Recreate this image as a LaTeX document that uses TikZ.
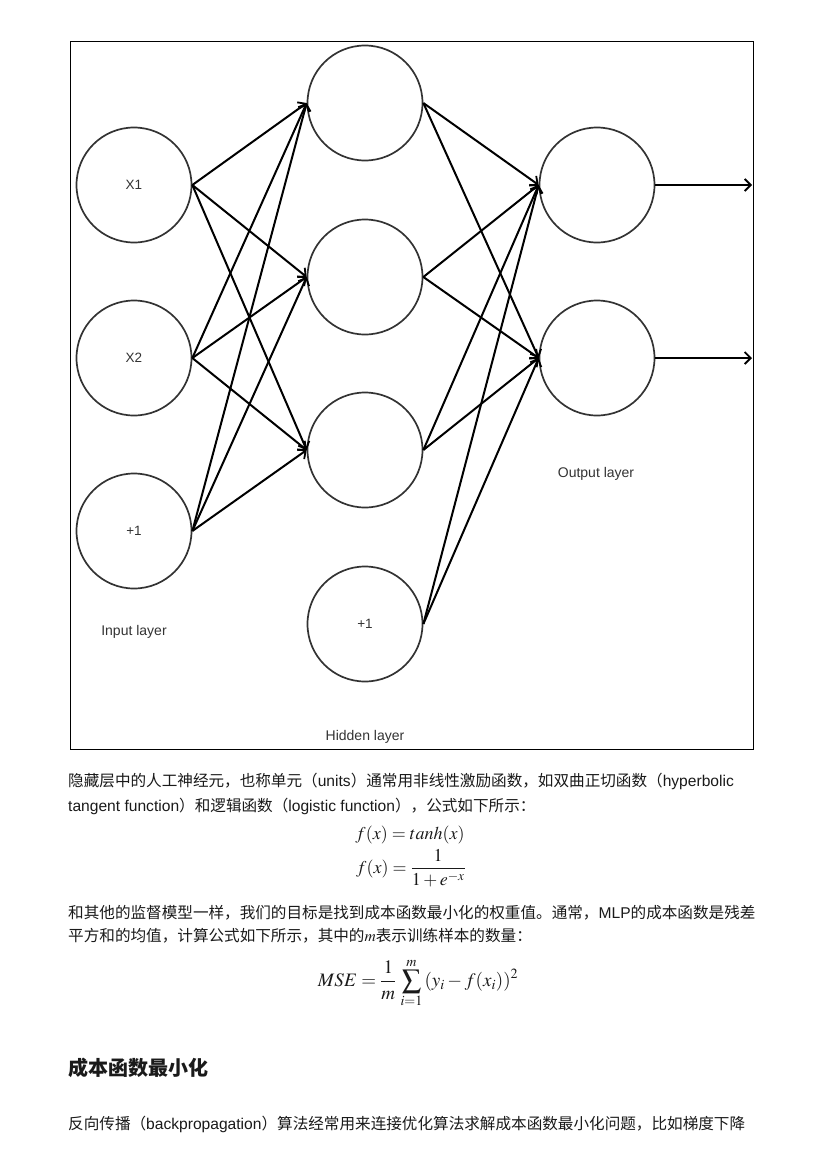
\documentclass[tikz,border=0pt]{standalone}
\usepackage{mathptmx}
\usepackage{fontspec}
\setmainfont{Liberation Sans}
\newfontfamily\cjk{Noto Sans CJK SC}
\usetikzlibrary{arrows.meta}
\definecolor{ink}{HTML}{1A1A1A}
\definecolor{ring}{HTML}{333333}
\begin{document}
\begin{tikzpicture}[x=1pt,y=-1pt,
  neuron/.style={circle,draw=ring,line width=1.7pt,minimum size=115pt,inner sep=0pt,
    text=ring,font=\fontsize{13.5}{16}\selectfont},
  conn/.style={line width=2pt,-{Straight Barb[length=6pt,width=12pt,line width=1.8pt]}},
  lbl/.style={text=ring,font=\fontsize{14}{16}\selectfont,inner sep=0pt},
  para/.style={anchor=base west,inner sep=0pt,text=ink,font=\fontsize{15.6}{18}\selectfont},
  eq/.style={inner sep=0pt,text=ink},
  frm/.style={draw=black,line width=0.9pt,inner sep=0pt,anchor=north west,minimum width=683pt,minimum height=708pt}]
\useasboundingbox (0,0) rectangle (826,1168);
\fill[white] (0,0) rectangle (826,1168);
\node[frm] (frame) at (70,41) {};
% input layer
\node[neuron] (i1) at (134,185) {X1};
\node[neuron] (i2) at (134,358) {X2};
\node[neuron] (i3) at (134,531) {+1};
% hidden layer
\node[neuron] (h1) at (365,103) {};
\node[neuron] (h2) at (365,277) {};
\node[neuron] (h3) at (365,450) {};
\node[neuron] (h4) at (365,624) {+1};
% output layer
\node[neuron] (o1) at (597,185) {};
\node[neuron] (o2) at (597,358) {};
\coordinate (e1) at (752,185);
\coordinate (e2) at (752,358);
% labels
\node[lbl] (li) at (134,632) {Input layer};
\node[lbl] (lh) at (365,737) {Hidden layer};
\node[lbl] (lo) at (596,474) {Output layer};
% connectors
\foreach \a in {i1,i2,i3}{\foreach \b in {h1,h2,h3}{\draw[conn] (\a.east) -- (\b.west);}}
\foreach \a in {h1,h2,h3,h4}{\foreach \b in {o1,o2}{\draw[conn] (\a.east) -- (\b.west);}}
\draw[conn] (o1.east) -- (e1);
\draw[conn] (o2.east) -- (e2);
% text
\node[para] (p1) at (68,786) {{\cjk 隐藏层中的人工神经元，也称单元（}units{\cjk ）通常用非线性激励函数，如双曲正切函数（}hyperbolic};
\node[para] (p2) at (68,811) {tangent function{\cjk ）和逻辑函数（}logistic function{\cjk ），公式如下所示：}};
\node[eq,font=\fontsize{18}{21}\selectfont] (f1) at (410,835) {$f(x) = tanh(x)$};
\node[eq,font=\fontsize{18}{21}\selectfont] (f2) at (411,868) {$f(x) = \displaystyle\frac{1}{1+e^{-x}}$};
\node[para] (p3) at (68,918) {{\cjk 和其他的监督模型一样，我们的目标是找到成本函数最小化的权重值。通常，}MLP{\cjk 的成本函数是残差}};
\node[para] (p4) at (68,941) {{\cjk 平方和的均值，计算公式如下所示，其中的}$m${\cjk 表示训练样本的数量：}};
\node[eq,font=\fontsize{19}{23}\selectfont] (f3) at (418,983) {$\displaystyle MSE = \frac{1}{m}\,\sum_{i=1}^{m}\,(y_i - f(x_i))^2$};
\node[para,font=\fontsize{20}{24}\selectfont\cjk\bfseries] (hd) at (68,1075) {成本函数最小化};
\node[para] (p5) at (68,1129) {{\cjk 反向传播（}backpropagation{\cjk ）算法经常用来连接优化算法求解成本函数最小化问题，比如梯度下降}};
\end{tikzpicture}
\end{document}
